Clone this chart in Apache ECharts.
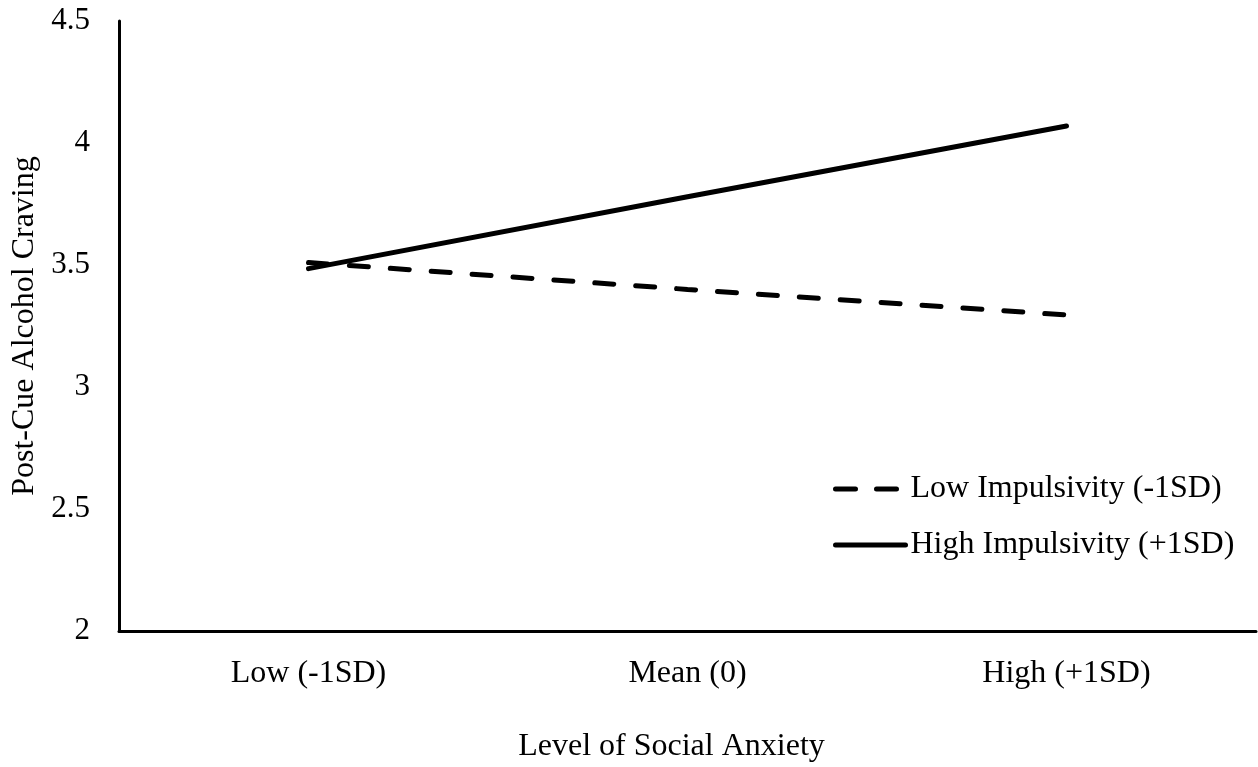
<!DOCTYPE html>
<html>
<head>
<meta charset="utf-8">
<script src="https://cdn.jsdelivr.net/npm/echarts@6/dist/echarts.min.js"></script>
<style>
	html, body { margin: 0; padding: 0; background: #fff; }
	#craving { width: 1258px; height: 767px; }
</style>
</head>
<body>
<div id="craving"></div>
<script>
	// levels of social anxiety
	var categories = ['Low (-1SD)', 'Mean (0)', 'High (+1SD)']
	// post-cue craving
	var lowImpulsivity = [3.51, 3.40, 3.295]
	var highImpulsivity = [3.485, 3.78, 4.07]
	var yTicks = { min: 2, max: 4.5, interval: 0.5 }

	var font = '"Liberation Serif", "Times New Roman", serif'
	var chart = echarts.init(document.getElementById('craving'))

	chart.setOption({
		backgroundColor: '#fff',
		textStyle: { fontFamily: font, color: '#000' },
		animation: false,
		grid: {
			left: 119,
			right: 2,
			top: 21,
			bottom: 136,
			outerBoundsMode: 'none'
		},
		legend: {
			orient: 'vertical',
			left: 828,
			top: 468,
			itemWidth: 70,
			itemHeight: 20,
			itemGap: 24,
			itemStyle: { opacity: 0 },
			textStyle: { fontFamily: font, fontSize: 32, color: '#000' },
			data: [
				{ name: 'Low Impulsivity (-1SD)', lineStyle: { width: 5, type: [20, 21], cap: 'round' } },
				{ name: 'High Impulsivity (+1SD)', lineStyle: { width: 5, cap: 'round' } }
			]
		},
		xAxis: {
			type: 'category',
			data: categories,
			boundaryGap: true,
			name: 'Level of Social Anxiety',
			nameLocation: 'middle',
			nameGap: 100,
			nameTextStyle: { fontFamily: font, fontSize: 32, color: '#000', padding: [0, 32, 0, 0] },
			axisLine: { lineStyle: { color: '#000', width: 3 } },
			axisTick: { show: false },
			axisLabel: { fontFamily: font, fontSize: 32, color: '#000', margin: 27 },
			splitLine: { show: false }
		},
		yAxis: {
			type: 'value',
			min: yTicks.min,
			max: yTicks.max,
			interval: yTicks.interval,
			name: 'Post-Cue Alcohol Craving',
			nameLocation: 'middle',
			nameGap: 78,
			nameTextStyle: { fontFamily: font, fontSize: 32, color: '#000' },
			axisLine: { show: true, lineStyle: { color: '#000', width: 3 } },
			axisTick: { show: false },
			axisLabel: { fontFamily: font, fontSize: 31, color: '#000', margin: 29 },
			splitLine: { show: false }
		},
		series: [
			{
				name: 'Low Impulsivity (-1SD)',
				type: 'line',
				data: lowImpulsivity,
				symbol: 'none',
				color: '#000',
				lineStyle: { color: '#000', width: 5, type: [19, 22], cap: 'round' }
			},
			{
				name: 'High Impulsivity (+1SD)',
				type: 'line',
				data: highImpulsivity,
				symbol: 'none',
				color: '#000',
				lineStyle: { color: '#000', width: 5, cap: 'round' }
			}
		]
	})
</script>
</body>
</html>
